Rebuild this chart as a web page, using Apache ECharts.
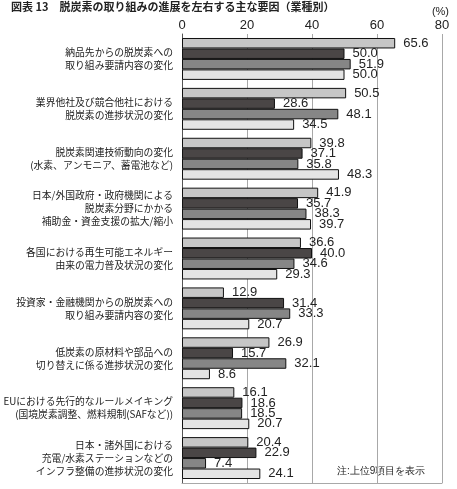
<!DOCTYPE html>
<html>
<head>
<meta charset="utf-8">
<script src="https://cdn.jsdelivr.net/npm/echarts@6/dist/echarts.min.js"></script>
<style>
  html, body { margin: 0; padding: 0; background: #fff; }
  #main { width: 457px; height: 489px; }
</style>
</head>
<body>
<div id="main"></div>
<script>
const categories = [
  '納品先からの脱炭素への\n取り組み要請内容の変化',
  '業界他社及び競合他社における\n脱炭素の進捗状況の変化',
  '脱炭素関連技術動向の変化\n(水素、アンモニア、蓄電池など)',
  '日本/外国政府・政府機関による\n脱炭素分野にかかる\n補助金・資金支援の拡大/縮小',
  '各国における再生可能エネルギー\n由来の電力普及状況の変化',
  '投資家・金融機関からの脱炭素への\n取り組み要請内容の変化',
  '低炭素の原材料や部品への\n切り替えに係る進捗状況の変化',
  'EUにおける先行的なルールメイキング\n(国境炭素調整、燃料規制(SAFなど))',
  '日本・諸外国における\n充電/水素ステーションなどの\nインフラ整備の進捗状況の変化'
];
const series1 = [65.6, 50.5, 39.8, 41.9, 36.6, 12.9, 26.9, 16.1, 20.4];
const series2 = [50.0, 28.6, 37.1, 35.7, 40.0, 31.4, 15.7, 18.6, 22.9];
const series3 = [51.9, 48.1, 35.8, 38.3, 34.6, 33.3, 32.1, 18.5, 7.4];
const series4 = [50.0, 34.5, 48.3, 39.7, 29.3, 20.7, 8.6, 20.7, 24.1];
const valueTicks = [0, 20, 40, 60, 80];

const colors = ['#c6c6c6', '#4a4646', '#868686', '#e4e4e4'];
const numFont = '"Liberation Sans", Arial, sans-serif';
const jpFont = '"Noto Sans CJK JP", sans-serif';

const chart = echarts.init(document.getElementById('main'));

const makeSeries = (data, ix) => ({
  type: 'bar',
  data: data,
  barGap: '0%',
  barCategoryGap: '16%',
  itemStyle: { color: colors[ix], borderColor: '#111', borderWidth: 1 },
  label: {
    show: true,
    position: 'right',
    distance: 8,
    fontSize: 13,
    fontFamily: numFont,
    color: '#222',
    formatter: (p) => p.value.toFixed(1),
  },
  silent: true,
});

const option = {
  animation: false,
  title: {
    text: '図表 13　脱炭素の取り組みの進展を左右する主な要因（業種別）',
    left: 11,
    top: 1,
    padding: 0,
    textStyle: { fontSize: 11, fontWeight: 'bold', color: '#222', fontFamily: jpFont },
  },
  graphic: [
    {
      type: 'text',
      right: 8,
      top: 6,
      style: { text: '(%)', fontSize: 11, fill: '#222', font: '11px ' + numFont },
    },
    {
      type: 'text',
      left: 337,
      top: 466,
      style: { text: '注:上位9項目を表示', fontSize: 10, fill: '#222', font: '10px ' + jpFont },
    },
  ],
  grid: { left: 182, right: 15, top: 34, bottom: 6, outerBoundsMode: 'none', containLabel: false },
  xAxis: [
    {
      type: 'value',
      position: 'top',
      min: valueTicks[0],
      max: valueTicks[valueTicks.length - 1],
      interval: 20,
      axisLine: { show: false },
      axisTick: { show: false },
      axisLabel: {
        fontSize: 13,
        fontFamily: numFont,
        color: '#222',
        margin: 2,
        formatter: (v) => (valueTicks.includes(v) ? String(v) : ''),
      },
      splitLine: { show: true, lineStyle: { color: '#a8a8a8', width: 1 } },
    },
    {
      type: 'value',
      position: 'bottom',
      min: 0,
      max: 80,
      interval: 20,
      axisLine: { show: true, lineStyle: { color: '#a8a8a8', width: 1 } },
      axisTick: { show: false },
      axisLabel: { show: false },
      splitLine: { show: false },
    },
  ],
  yAxis: {
    type: 'category',
    data: categories,
    inverse: true,
    axisLine: { show: true, lineStyle: { color: '#555', width: 1 } },
    axisTick: { show: false },
    axisLabel: {
      fontSize: 9.8,
      lineHeight: 13,
      color: '#222',
      fontFamily: jpFont,
      margin: 9,
      align: 'right',
    },
  },
  series: [series1, series2, series3, series4].map(makeSeries),
};

chart.setOption(option);
</script>
</body>
</html>
